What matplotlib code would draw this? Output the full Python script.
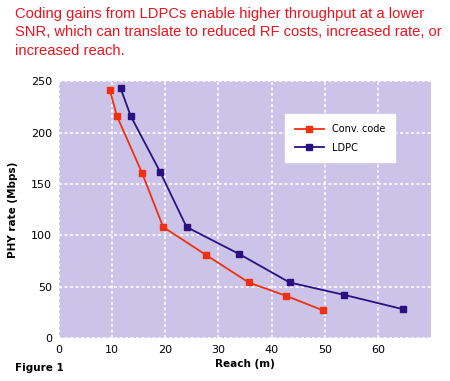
import matplotlib.pyplot as plt
import numpy as np

# Datos
conv_reach = [9.6, 10.9, 15.6, 19.6, 27.6, 35.7, 42.7, 49.6]
conv_rate = [241, 216, 161, 108, 81, 54, 41, 27]
ldpc_reach = [11.6, 13.5, 19.0, 24.0, 33.8, 43.4, 53.6, 64.7]
ldpc_rate = [243, 216, 162, 108, 82, 54, 42, 28]
x_ticks = [0, 10, 20, 30, 40, 50, 60]
y_ticks = [0, 50, 100, 150, 200, 250]

title = ('Coding gains from LDPCs enable higher throughput at a lower\n'
         'SNR, which can translate to reduced RF costs, increased rate, or\n'
         'increased reach.')

fig = plt.figure(figsize=(4.5, 3.81), dpi=100)
ax = fig.add_axes([0.131, 0.113, 0.827, 0.674])
ax.set_facecolor('#CCC4E8')

ax.plot(conv_reach, conv_rate, color='#F0300F', marker='s', markersize=5,
        linewidth=1.3, label='Conv. code')
ax.plot(ldpc_reach, ldpc_rate, color='#2A1080', marker='s', markersize=5,
        linewidth=1.3, label='LDPC')

ax.set_xlim(0, 70)
ax.set_ylim(0, 250)
ax.set_xticks(x_ticks)
ax.set_yticks(y_ticks)
ax.tick_params(length=0, labelsize=8, pad=5)
ax.grid(True, color='white', linestyle=(0, (2, 1.6)), linewidth=1.1)
ax.set_axisbelow(True)
for s in ax.spines.values():
    s.set_visible(False)

ax.set_xlabel('Reach (m)', fontsize=7.5, fontweight='bold', labelpad=3)
ax.set_ylabel('PHY rate (Mbps)', fontsize=7.5, fontweight='bold', labelpad=9)

leg = ax.legend(loc='upper right', bbox_to_anchor=(0.915, 0.89), fontsize=7,
                frameon=True, fancybox=False, borderpad=1.0, handlelength=3.0,
                labelspacing=0.9)
leg.get_frame().set_edgecolor('white')
leg.get_frame().set_facecolor('white')
leg.get_frame().set_alpha(1)

fig.text(0.033, 0.982, title, color='#E8141E', fontsize=10.6, va='top',
         ha='left', linespacing=1.4, family='Liberation Sans')
fig.text(0.033, 0.02, 'Figure 1', fontsize=7.5, fontweight='bold', ha='left',
         va='bottom')

plt.savefig('out.png', dpi=100)
